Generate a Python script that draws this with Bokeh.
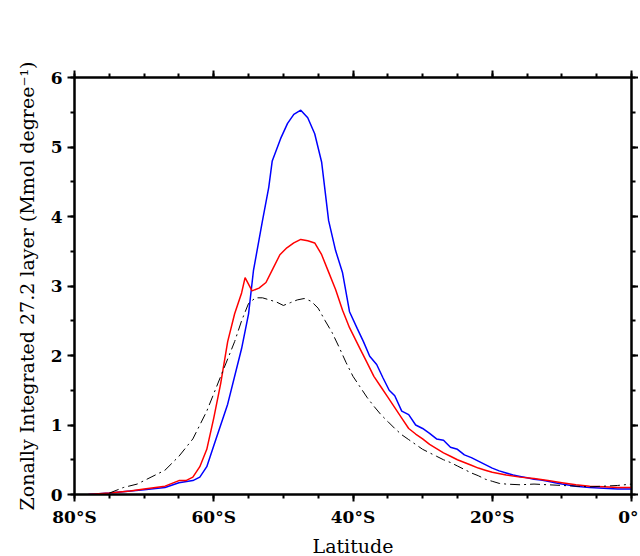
from bokeh.plotting import figure
from bokeh.models import LinearAxis, FixedTicker, CustomJSTickFormatter, Range1d
from bokeh.embed import file_html
from bokeh.resources import INLINE

lat_blue = [-78, -75, -70, -67, -65, -63, -62, -61, -60, -58, -56, -55, -54.3, -53, -52.1, -51.6, -50.4, -49.4, -48.5,
            -47.5, -46.5, -45.5, -44.5, -43.5, -42.5, -41.5, -40.5, -39.4, -38.5, -37.6, -36.6, -35.7, -34.8, -34,
            -33, -32, -31, -30, -29, -28, -27, -26, -25,
            -24, -23, -22, -21, -20, -19, -18, -17, -16, -15, -14, -13, -12, -11, -10, -8, -6, -4, -2, 0]
blue = [0, 0.02, 0.07, 0.1, 0.17, 0.2, 0.25, 0.4, 0.7, 1.3, 2.1, 2.6, 3.22, 3.94, 4.42, 4.8, 5.12, 5.34, 5.47,
        5.53, 5.42, 5.19, 4.78, 3.94, 3.51, 3.19, 2.63, 2.39, 2.2, 1.99, 1.87, 1.68, 1.5, 1.42, 1.2, 1.15, 1.0,
        0.95, 0.88, 0.8, 0.78, 0.68, 0.65,
        0.57, 0.53, 0.48, 0.43, 0.38, 0.34, 0.31, 0.28, 0.26, 0.24, 0.22, 0.21, 0.19, 0.17, 0.15, 0.12, 0.1, 0.09,
        0.08, 0.08]

lat_red = [-78, -75, -72, -70, -67, -65, -64, -63, -62, -61, -60, -59, -58, -57, -56, -55.5, -54.5, -53.5, -52.5,
           -51.5, -50.5, -49.5, -48.5, -47.5, -46.5, -45.5, -44.5, -43.5, -42.5, -41.5, -40.5, -39, -38, -37, -36,
           -35, -34, -33, -32, -31, -30, -29, -28, -27, -26, -25, -24, -23, -22, -21, -20, -18, -16, -14, -12, -10,
           -8, -6, -4, -2, 0]
red = [0, 0.02, 0.05, 0.08, 0.12, 0.2, 0.2, 0.25, 0.4, 0.65, 1.1, 1.6, 2.2, 2.6, 2.9, 3.12, 2.93, 2.97, 3.05, 3.25,
       3.45, 3.55, 3.62, 3.67, 3.65, 3.62, 3.45, 3.2, 2.95, 2.65, 2.4, 2.1, 1.9, 1.7, 1.55, 1.4, 1.25, 1.1, 0.95,
       0.87, 0.8, 0.72, 0.66, 0.6, 0.55, 0.5, 0.46, 0.42, 0.38, 0.35, 0.32, 0.28, 0.25, 0.23, 0.2, 0.17, 0.14, 0.12,
       0.11, 0.1, 0.1]

lat_black = [-75, -73, -71, -69, -67, -65, -63, -61, -59, -57, -56, -55, -54, -53, -52, -51, -50, -49, -48, -47, -46,
             -45, -44, -43, -42, -41, -40, -39, -38, -37, -36, -35, -34, -33, -32, -31, -30, -29, -28, -27, -26, -25,
             -24, -23, -22, -21, -20, -19, -18, -16, -14, -12, -10, -8, -6, -4, -2, 0]
black = [0.02, 0.1, 0.15, 0.25, 0.35, 0.55, 0.8, 1.2, 1.7, 2.2, 2.5, 2.75, 2.83, 2.83, 2.8, 2.77, 2.72, 2.76, 2.8,
         2.82, 2.78, 2.68, 2.5, 2.33, 2.12, 1.9, 1.7, 1.55, 1.4, 1.27, 1.15, 1.05, 0.95, 0.86, 0.79, 0.72, 0.65, 0.6,
         0.55, 0.5, 0.46, 0.41, 0.36, 0.31, 0.27, 0.22, 0.19, 0.16, 0.15, 0.14, 0.15, 0.14, 0.13, 0.12, 0.11, 0.12,
         0.13, 0.15]

x_ticks = [-80, -60, -40, -20, 0]
y_ticks = [0, 1, 2, 3, 4, 5, 6]

p = figure(frame_width=557, frame_height=417, output_backend="svg", toolbar_location=None, tools="",
           x_range=Range1d(-80, 0), y_range=Range1d(0, 6),
           min_border_left=74, min_border_top=77, min_border_right=7, min_border_bottom=54,
           x_axis_label="Latitude", y_axis_label="Zonally Integrated 27.2 layer (Mmol degree\u207b\u00b9)")
p.grid.visible = False
p.outline_line_color = "black"
p.outline_line_width = 2

p.line(lat_blue, blue, line_color="blue", line_width=1.5)
p.line(lat_red, red, line_color="red", line_width=1.5)
p.line(lat_black, black, line_color="black", line_width=1, line_dash="10 4 2 4")

p.add_layout(LinearAxis(), "above")
p.add_layout(LinearAxis(), "right")

fmt = CustomJSTickFormatter(code="return tick == 0 ? '0\u00b0' : Math.abs(tick) + '\u00b0S';")
for ax in p.xaxis:
    ax.ticker = FixedTicker(ticks=x_ticks, minor_ticks=list(range(-80, 1, 5)))
    ax.formatter = fmt
for ax in p.yaxis:
    ax.ticker = FixedTicker(ticks=y_ticks, minor_ticks=[i * 0.5 for i in range(13)])
for ax in p.axis:
    ax.axis_line_width = 2
    ax.major_tick_line_width = 2
    ax.minor_tick_line_width = 2
    ax.major_tick_out = 7
    ax.major_tick_in = 0
    ax.minor_tick_out = 4
    ax.minor_tick_in = 0
    ax.major_label_text_font = "DejaVu Serif"
    ax.major_label_text_font_style = "bold"
    ax.major_label_text_font_size = "17px"
    ax.major_label_text_color = "black"
    ax.axis_label_text_font = "DejaVu Serif"
    ax.axis_label_text_font_style = "normal"
    ax.axis_label_text_font_size = "19px"
    ax.axis_label_text_color = "black"
p.above[0].major_label_text_font_size = "0px"
p.right[0].major_label_text_font_size = "0px"
p.above[0].axis_label = None
p.right[0].axis_label = None
p.xaxis[0].axis_label_standoff = 0
p.yaxis[0].axis_label_standoff = 10

open("out.html", "w").write(file_html(p, INLINE))
